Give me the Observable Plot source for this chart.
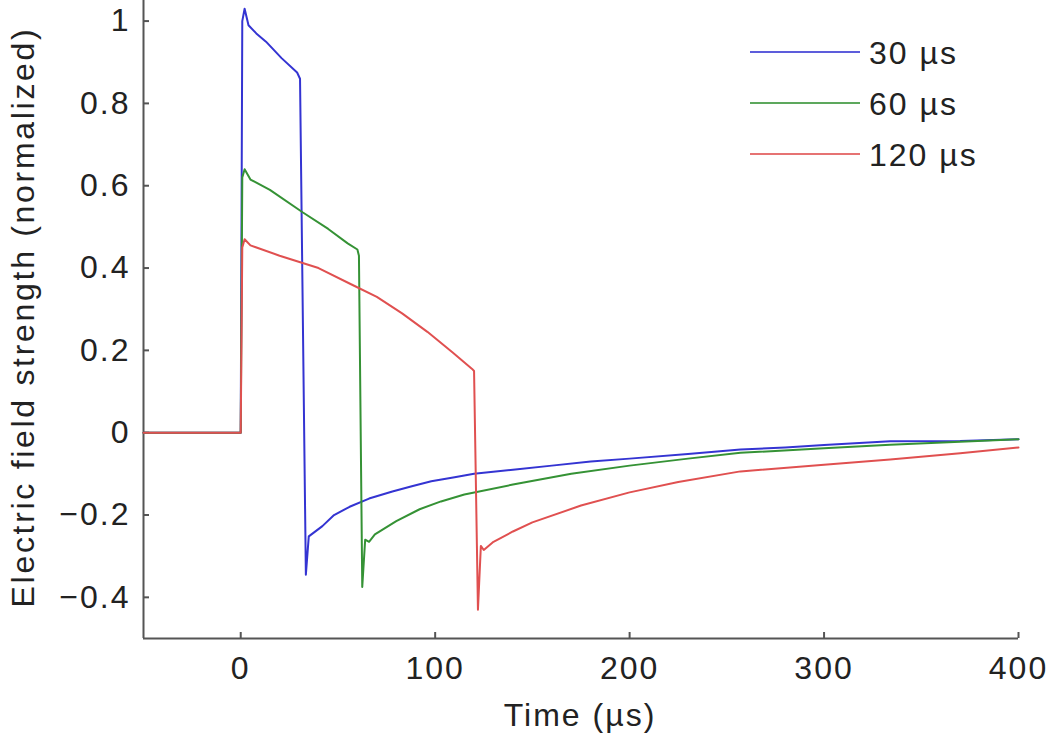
<!DOCTYPE html>
<html>
<head>
<meta charset="utf-8">
<script src="https://cdn.jsdelivr.net/npm/d3@7"></script>
<script src="https://cdn.jsdelivr.net/npm/@observablehq/plot@0.6"></script>
<style>
  html, body { margin: 0; padding: 0; background: #fff; }
  #wrap { position: relative; width: 1050px; height: 737px; }
  #legend { position: absolute; left: 740px; top: 28px; }
  svg text { font-family: "Liberation Sans", Arial, sans-serif; }
</style>
</head>
<body>
<div id="wrap"></div>
<script>
// ---- data ----
const seriesNames = ["30 µs", "60 µs", "120 µs"];
const seriesColors = ["#3434d2", "#359235", "#e05050"];

const t30 = [-50, 0, 0.8, 2, 4, 8, 13, 21, 29, 30.5, 33.5, 35, 42, 48, 56, 66, 78, 88, 98, 110, 120, 140, 160, 180, 200, 230, 257, 280, 300, 334, 370, 400];
const e30 = [0, 0, 1.00, 1.03, 0.99, 0.97, 0.95, 0.91, 0.875, 0.86, -0.345, -0.252, -0.227, -0.2, -0.18, -0.16, -0.143, -0.13, -0.118, -0.108, -0.10, -0.09, -0.08, -0.07, -0.063, -0.052, -0.041, -0.036, -0.03, -0.021, -0.02, -0.016];

const t60 = [-50, 0, 0.8, 2, 5, 15, 32, 45, 55, 60, 60.8, 62.5, 64, 66, 69, 80, 92, 103, 115, 140, 170, 200, 230, 257, 300, 334, 370, 400];
const e60 = [0, 0, 0.62, 0.64, 0.615, 0.59, 0.535, 0.495, 0.46, 0.445, 0.43, -0.375, -0.26, -0.265, -0.247, -0.215, -0.186, -0.167, -0.15, -0.126, -0.10, -0.08, -0.063, -0.049, -0.038, -0.029, -0.022, -0.016];

const t120 = [-50, 0, 0.8, 2, 5, 20, 40, 57, 70, 83, 96, 109, 119, 120, 122, 123.5, 125, 130, 140, 150, 175, 200, 225, 257, 300, 334, 370, 400];
const e120 = [0, 0, 0.45, 0.47, 0.455, 0.43, 0.40, 0.36, 0.33, 0.29, 0.245, 0.195, 0.155, 0.15, -0.43, -0.275, -0.285, -0.265, -0.24, -0.218, -0.177, -0.145, -0.12, -0.094, -0.078, -0.065, -0.05, -0.036];

const xTicks = [0, 100, 200, 300, 400];
const yTicks = [-0.4, -0.2, 0, 0.2, 0.4, 0.6, 0.8, 1];
const xDomain = [-50, 400];
const yDomain = [-0.5, 1.05];
const xLabel = "Time (µs)";
const yLabel = "Electric field strength (normalized)";

// ---- build table ----
const rows = [];
[[t30, e30], [t60, e60], [t120, e120]].forEach(([ts, es], i) => {
  ts.forEach((t, j) => rows.push({series: seriesNames[i], t, e: es[j]}));
});

const axisColor = "#555";
const fmt = d => (d < 0 ? "\u2212" : "") + String(Math.abs(Math.round(d * 10) / 10));
// inward tick lengths expressed in data units (≈6 px)
const xTickLen = (yDomain[1] - yDomain[0]) * 6 / 638;
const yTickLen = (xDomain[1] - xDomain[0]) * 6 / 875;

const chart = Plot.plot({
  width: 1050,
  height: 737,
  marginLeft: 143,
  marginRight: 32,
  marginTop: 0,
  marginBottom: 99,
  style: {fontFamily: "Liberation Sans, Arial, sans-serif", fontSize: "32px", letterSpacing: "2px", color: "#222", background: "#fff"},
  x: {domain: xDomain, label: null},
  y: {domain: yDomain, label: null},
  color: {domain: seriesNames, range: seriesColors},
  marks: [
    Plot.axisX(xTicks, {tickSize: 0, tickPadding: 18, tickFormat: d => String(d), fill: "#222"}),
    Plot.axisY(yTicks, {tickSize: 0, tickPadding: 13, tickFormat: fmt, fill: "#222"}),
    Plot.ruleX(xTicks, {y1: yDomain[0], y2: yDomain[0] + xTickLen, stroke: axisColor, strokeWidth: 2}),
    Plot.ruleY(yTicks, {x1: xDomain[0], x2: xDomain[0] + yTickLen, stroke: axisColor, strokeWidth: 2}),
    Plot.ruleY([yDomain[0]], {stroke: axisColor, strokeWidth: 2}),
    Plot.ruleX([xDomain[0]], {stroke: axisColor, strokeWidth: 2}),
    Plot.line(rows, {x: "t", y: "e", z: "series", stroke: "series", strokeWidth: 2, curve: "linear"})
  ]
});

// axis labels as real text
const svg = d3.select(chart);
svg.append("text")
  .attr("x", 580).attr("y", 726)
  .attr("text-anchor", "middle")
  .attr("fill", "#222")
  .style("font-size", "32px").style("letter-spacing", "2px")
  .text(xLabel);
svg.append("text")
  .attr("transform", "translate(34,317) rotate(-90)")
  .attr("text-anchor", "middle")
  .attr("fill", "#222")
  .style("font-size", "32px").style("letter-spacing", "2.7px")
  .text(yLabel);

document.getElementById("wrap").appendChild(chart);

// legend overlay
const leg = d3.select("#wrap").append("svg")
  .attr("id", "legend")
  .attr("width", 300).attr("height", 150);
seriesNames.forEach((name, i) => {
  const g = leg.append("g").attr("transform", `translate(0,${24 + i * 51})`);
  g.append("line").attr("x1", 10).attr("x2", 120).attr("y1", 0).attr("y2", 0)
    .attr("stroke", seriesColors[i]).attr("stroke-width", 2).attr("stroke-opacity", 0.8);
  g.append("text").attr("x", 129).attr("y", 0).attr("dy", "0.36em")
    .attr("fill", "#222").style("font-size", "32px").style("letter-spacing", "2px")
    .text(name);
});
</script>
</body>
</html>
